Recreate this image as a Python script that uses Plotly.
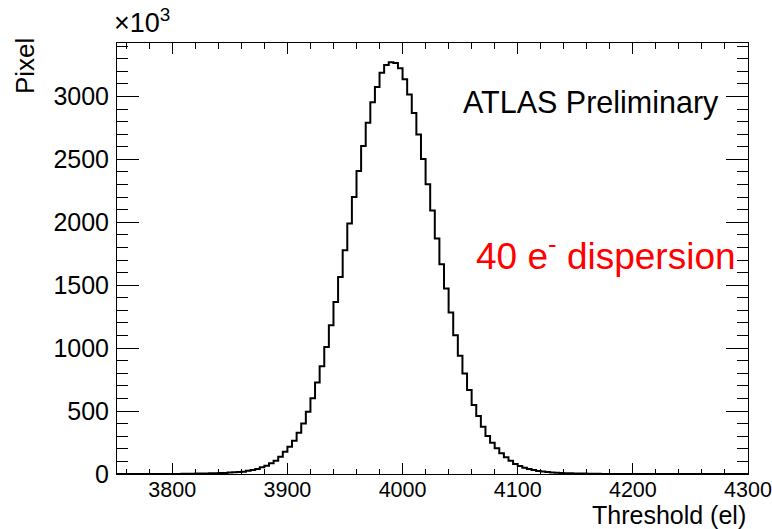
import plotly.graph_objects as go

# ---- data (counts in units of 10^3 pixels) ----
bin_width = 4
first_bin_low = 3808
pixel_counts_k = [
    1, 2, 2, 3, 3, 4, 5, 6, 7, 8, 11, 13, 16, 18, 26, 32, 40, 53, 66, 85,
    106, 137, 177, 217, 264, 328, 402, 494, 601, 728, 857, 1010, 1183, 1367,
    1566, 1778, 1990, 2201, 2407, 2606, 2791, 2955, 3075, 3188, 3250, 3272,
    3267, 3224, 3137, 3016, 2869, 2697, 2504, 2302, 2093, 1871, 1667, 1474,
    1283, 1103, 939, 799, 667, 548, 460, 375, 302, 248, 204, 164, 133, 106,
    79, 63, 50, 40, 32, 24, 19, 15, 12, 10, 8, 6, 5, 4, 3, 3, 2, 2, 1,
]
x_range = [3752, 4300]
y_range = [0, 3425]
x_tick_vals = [3800, 3900, 4000, 4100, 4200, 4300]
y_tick_vals = [0, 500, 1000, 1500, 2000, 2500, 3000]

# bin edges and step points (histogram outline incl. empty bins at 0)
edges = [first_bin_low + i * bin_width for i in range(len(pixel_counts_k) + 1)]
xs = [x_range[0], edges[0]] + edges[1:] + [x_range[1]]
ys = [0] + pixel_counts_k + [0, 0]

fig = go.Figure()
fig.add_trace(go.Scatter(
    x=xs, y=ys, mode="lines", line=dict(shape="hv", color="black", width=2),
    hoverinfo="skip", showlegend=False,
))

axis_font = dict(family="Liberation Sans, Arial, sans-serif", color="black")

fig.update_layout(
    width=772, height=529,
    margin=dict(l=117, r=24, t=43, b=55, autoexpand=False),
    paper_bgcolor="white", plot_bgcolor="white",
    showlegend=False,
    font=axis_font,
)
fig.update_xaxes(
    range=[x_range[0], x_range[1] + 0.01], tickvals=x_tick_vals,
    ticktext=[str(v) for v in x_tick_vals],
    ticks="inside", ticklen=11, tickwidth=1, tickcolor="black",
    minor=dict(dtick=20, tick0=3800, ticks="inside", ticklen=5.5, tickcolor="black", tickwidth=1),
    showline=True, linecolor="black", linewidth=1, mirror="allticks",
    showgrid=False, zeroline=False, automargin=False,
    tickfont=dict(family="Liberation Sans Narrow, Arial Narrow, Liberation Sans, sans-serif", size=21.5, color="black"),
    ticklabeloverflow="allow",
    ticklabelstandoff=-4,
)
fig.update_yaxes(
    range=y_range, tickvals=y_tick_vals,
    ticktext=[str(v) for v in y_tick_vals],
    ticks="inside", ticklen=22, tickwidth=1, tickcolor="black",
    minor=dict(dtick=100, tick0=0, ticks="inside", ticklen=11, tickcolor="black", tickwidth=1),
    showline=True, linecolor="black", linewidth=1, mirror="allticks",
    showgrid=False, zeroline=False, automargin=False,
    tickfont=dict(size=25, color="black"),
    ticklabelstandoff=2,
)

fig.add_annotation(text="Pixel", textangle=-90, xref="paper", yref="paper",
                   x=(25 - 117) / 631, y=(474 - 66) / 431, xanchor="center", yanchor="middle",
                   showarrow=False, font=dict(size=26, color="black"))
fig.add_annotation(text="Threshold (el)", xref="paper", yref="paper",
                   x=1.0, y=-(515 - 474) / 431, xanchor="right", yanchor="middle",
                   showarrow=False, font=dict(size=25, color="black"))
fig.add_annotation(text="×10<sup>3</sup>", xref="paper", yref="paper",
                   x=(112 - 117) / 631, y=(474 - 40) / 431, xanchor="left", yanchor="bottom",
                   showarrow=False, font=dict(size=27, color="black"))
fig.add_annotation(text="ATLAS Preliminary", xref="paper", yref="paper",
                   x=(591 - 117) / 631, y=(474 - 102) / 431, xanchor="center", yanchor="middle",
                   showarrow=False, font=dict(size=30.5, color="black"))
fig.add_annotation(text="40 e<sup>-</sup> dispersion", xref="paper", yref="paper",
                   x=(606 - 117) / 631, y=(474 - 254) / 431, xanchor="center", yanchor="middle",
                   showarrow=False, font=dict(size=37, color="red"))

fig.write_html("out.html")
